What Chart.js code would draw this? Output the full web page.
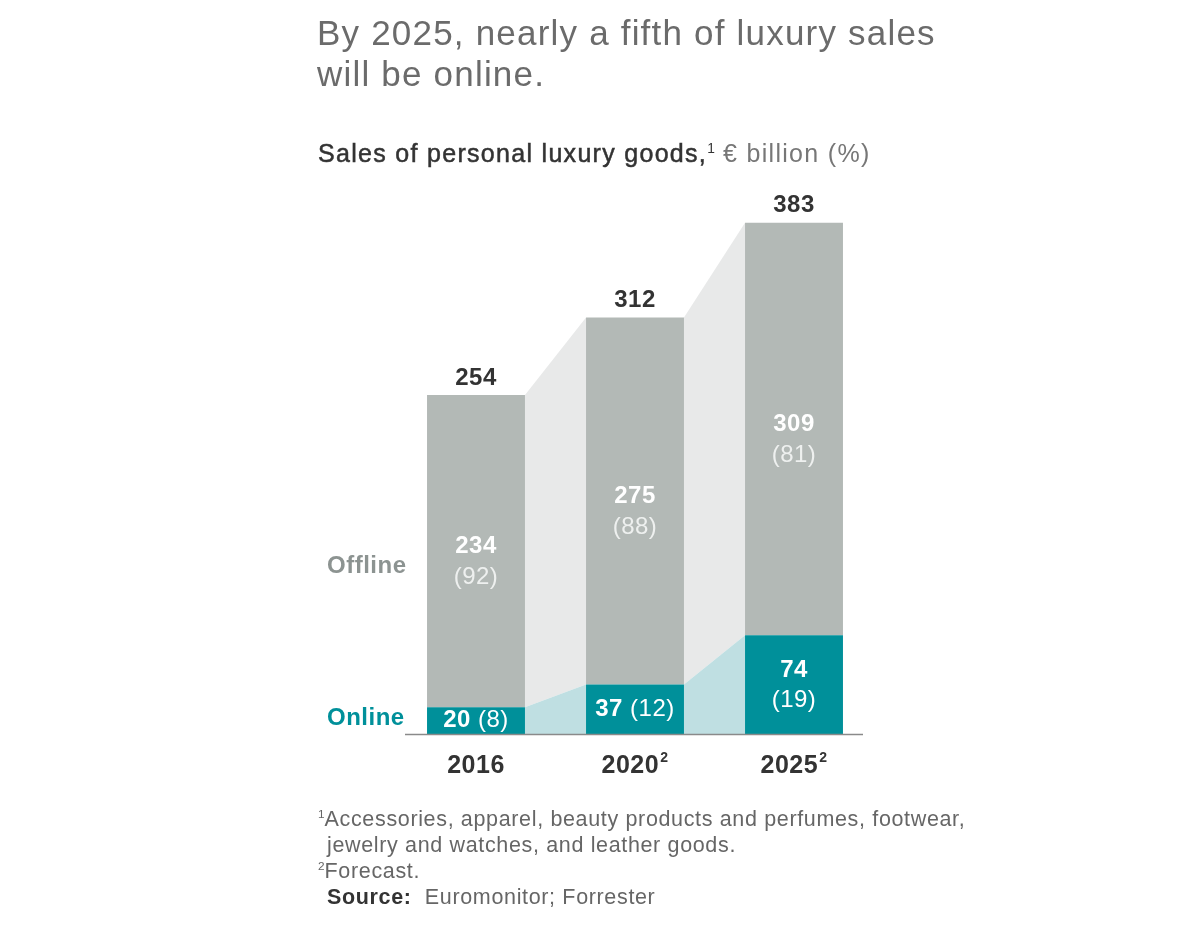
<!DOCTYPE html>
<html>
<head>
<meta charset="utf-8">
<script src="https://cdn.jsdelivr.net/npm/chart.js@4.4.1/dist/chart.umd.min.js"></script>
<style>
  html, body { margin: 0; padding: 0; background: #fff; }
  body { width: 1200px; height: 928px; position: relative; overflow: hidden; font-family: "Liberation Sans", Arial, sans-serif; }
  #wrap { position: absolute; left: 0; top: 0; width: 1200px; height: 928px; }
  .t { position: absolute; white-space: nowrap; }
  #title { left: 317px; top: 12px; font-size: 35px; line-height: 41px; letter-spacing: 1.2px; color: #6b6b6b; }
  #sub { left: 318px; top: 138px; font-size: 25px; line-height: 30px; letter-spacing: 1.3px; color: #333; }
  #sub b { font-weight: normal; -webkit-text-stroke: 0.5px #333; }
  #sub span { color: #777; }
  sup { font-size: 55%; line-height: 0; vertical-align: 0; position: relative; top: -0.65em; letter-spacing: 0; }
  #notes { left: 318px; top: 806px; font-size: 21.5px; line-height: 26px; letter-spacing: 0.65px; color: #666; }
  #notes .ind { padding-left: 9px; }
  #notes b { color: #333; }
</style>
</head>
<body>
<div id="wrap"><canvas id="c" width="1200" height="928"></canvas></div>
<div class="t" id="title">By 2025, nearly a fifth of luxury sales<br>will be online.</div>
<div class="t" id="sub"><b>Sales of personal luxury goods,</b><sup>1</sup> <span>€ billion (%)</span></div>
<div class="t" id="notes">
  <div><sup>1</sup>Accessories, apparel, beauty products and perfumes, footwear,</div>
  <div class="ind">jewelry and watches, and leather goods.</div>
  <div><sup>2</sup>Forecast.</div>
  <div class="ind"><b>Source:</b>&nbsp; Euromonitor; Forrester</div>
</div>
<script>
const categories = ['2016', '2020', '2025'];
const categorySup = ['', '2', '2'];
const online = [20, 37, 74];
const offline = [234, 275, 309];
const onlinePct = [8, 12, 19];
const offlinePct = [92, 88, 81];
const totals = [254, 312, 383];

const FONT = '"Liberation Sans", Arial, sans-serif';
const TEAL = '#00909a';
const GREY = '#b3b9b6';

const connectors = {
  id: 'connectors',
  beforeDatasetsDraw(chart) {
    const ctx = chart.ctx;
    const on = chart.getDatasetMeta(0).data;
    const off = chart.getDatasetMeta(1).data;
    ctx.save();
    for (let i = 0; i < on.length - 1; i++) {
      const r = on[i].x + on[i].width / 2;
      const l = on[i + 1].x - on[i + 1].width / 2;
      ctx.fillStyle = '#e8e9e9';
      ctx.beginPath();
      ctx.moveTo(r, off[i].y);
      ctx.lineTo(l, off[i + 1].y);
      ctx.lineTo(l, on[i + 1].y);
      ctx.lineTo(r, on[i].y);
      ctx.closePath();
      ctx.fill();
      ctx.fillStyle = '#bfdfe2';
      ctx.beginPath();
      ctx.moveTo(r, on[i].y);
      ctx.lineTo(l, on[i + 1].y);
      ctx.lineTo(l, on[i + 1].base);
      ctx.lineTo(r, on[i].base);
      ctx.closePath();
      ctx.fill();
    }
    ctx.restore();
  },
  afterDatasetsDraw(chart) {
    const ctx = chart.ctx;
    const on = chart.getDatasetMeta(0).data;
    const off = chart.getDatasetMeta(1).data;
    const base = on[0].base;
    ctx.save();
    // axis line
    ctx.strokeStyle = '#8a8a8a';
    ctx.lineWidth = 1.5;
    ctx.beginPath();
    ctx.moveTo(405, base + 0.5);
    ctx.lineTo(863, base + 0.5);
    ctx.stroke();

    ctx.textBaseline = 'middle';
    ctx.letterSpacing = '0.5px';
    const bold = 'bold 24px ' + FONT;
    const norm = '24px ' + FONT;

    // series labels
    ctx.textAlign = 'left';
    ctx.font = bold;
    ctx.fillStyle = '#8c9391';
    ctx.fillText('Offline', 327, 566);
    ctx.fillStyle = TEAL;
    ctx.fillText('Online', 327, 718);

    for (let i = 0; i < on.length; i++) {
      const x = on[i].x;
      ctx.textAlign = 'center';
      // totals
      ctx.font = bold;
      ctx.fillStyle = '#333';
      ctx.fillText(String(totals[i]), x, off[i].y - 17);

      // offline inside
      const mid = (off[i].y + off[i].base) / 2;
      ctx.fillStyle = '#fff';
      ctx.font = bold;
      ctx.fillText(String(offline[i]), x, mid - 5);
      ctx.font = norm;
      ctx.fillStyle = '#eef0ef';
      ctx.fillText('(' + offlinePct[i] + ')', x, mid + 26);

      // online inside
      const omid = (on[i].y + on[i].base) / 2;
      const h = on[i].base - on[i].y;
      if (h > 60) {
        ctx.font = bold;
        ctx.fillStyle = '#fff';
        ctx.fillText(String(online[i]), x, omid - 14);
        ctx.font = norm;
        ctx.fillText('(' + onlinePct[i] + ')', x, omid + 16);
      } else {
        const a = String(online[i]);
        const b = ' (' + onlinePct[i] + ')';
        ctx.font = bold;
        const wa = ctx.measureText(a).width;
        ctx.font = norm;
        const wb = ctx.measureText(b).width;
        const sx = x - (wa + wb) / 2;
        ctx.textAlign = 'left';
        ctx.font = bold;
        ctx.fillStyle = '#fff';
        ctx.fillText(a, sx, omid);
        ctx.font = norm;
        ctx.fillText(b, sx + wa, omid);
      }

      // category labels
      const catFont = 'bold 25px ' + FONT;
      const supFont = 'bold 14px ' + FONT;
      ctx.font = catFont;
      const wc = ctx.measureText(categories[i]).width;
      ctx.font = supFont;
      const ws = categorySup[i] ? ctx.measureText(categorySup[i]).width + 1 : 0;
      const cx = x - (wc + ws) / 2;
      ctx.textAlign = 'left';
      ctx.fillStyle = '#333';
      ctx.font = catFont;
      ctx.fillText(categories[i], cx, base + 32);
      if (categorySup[i]) {
        ctx.font = supFont;
        ctx.fillText(categorySup[i], cx + wc + 1, base + 24);
      }
    }
    ctx.restore();
  }
};

new Chart(document.getElementById('c').getContext('2d'), {
  type: 'bar',
  data: {
    labels: categories,
    datasets: [
      { label: 'Online', data: online, backgroundColor: TEAL },
      { label: 'Offline', data: offline, backgroundColor: GREY }
    ]
  },
  options: {
    responsive: false,
    animation: false,
    events: [],
    layout: { padding: { left: 396.5, right: 326.5, top: 200, bottom: 194 } },
    datasets: { bar: { categoryPercentage: 1, barPercentage: 0.616, borderWidth: 0 } },
    plugins: { legend: { display: false }, tooltip: { enabled: false } },
    scales: {
      x: { stacked: true, display: false },
      y: { stacked: true, display: false, min: 0, max: 400 }
    }
  },
  plugins: [connectors]
});
</script>
</body>
</html>
